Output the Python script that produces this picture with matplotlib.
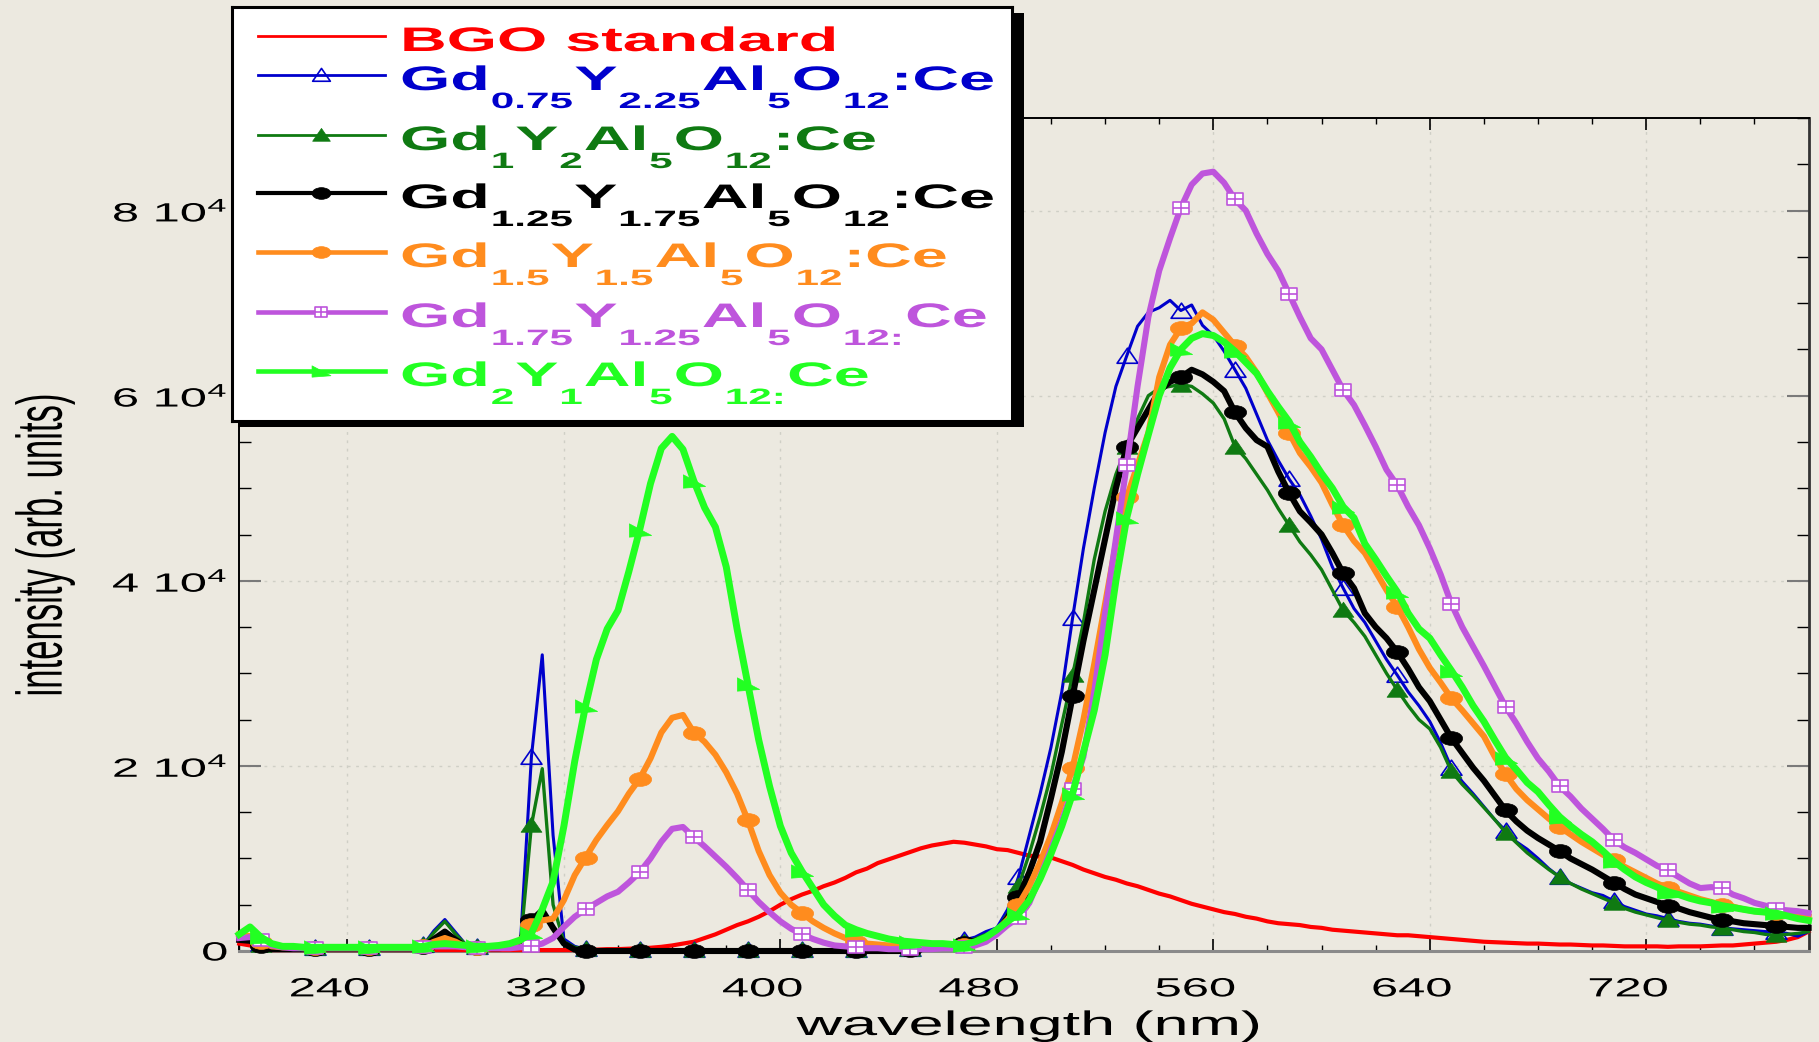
import numpy as np
import matplotlib
matplotlib.use("Agg")
import matplotlib.pyplot as plt
from matplotlib.path import Path
from matplotlib.patches import Rectangle
from matplotlib.patheffects import AbstractPathEffect
from matplotlib.transforms import Affine2D
from matplotlib.ticker import FixedLocator, MultipleLocator

# ---------------- data (intensities in units of 1000) ----------------
wavelength_nm = np.arange(200, 781, 4)

bgo_k = [
    0.8, 0.6, 0.3, 0.1, 0.1, 0.1, 0.1, 0.1, 0.1, 0.1,
    0.1, 0.1, 0.1, 0.1, 0.1, 0.1, 0.1, 0.1, 0.1, 0.1,
    0.1, 0.1, 0.1, 0.1, 0.1, 0.1, 0.1, 0.1, 0.1, 0.1,
    0.1, 0.1, 0.1, 0.15, 0.2, 0.2, 0.25, 0.3, 0.35, 0.45,
    0.6, 0.8, 1.0, 1.4, 1.8, 2.3, 2.8, 3.2, 3.7, 4.3,
    5.0, 5.6, 6.1, 6.5, 7.0, 7.4, 7.9, 8.5, 8.9, 9.5,
    9.9, 10.3, 10.7, 11.1, 11.4, 11.6, 11.8, 11.7, 11.5, 11.3,
    11.0, 10.9, 10.6, 10.3, 10.2, 10.1, 9.7, 9.3, 8.8, 8.4,
    8.0, 7.7, 7.3, 7.0, 6.6, 6.2, 5.9, 5.5, 5.1, 4.8,
    4.5, 4.2, 4.0, 3.7, 3.5, 3.2, 3.0, 2.9, 2.8, 2.6,
    2.5, 2.3, 2.2, 2.1, 2.0, 1.9, 1.8, 1.7, 1.7, 1.6,
    1.5, 1.4, 1.3, 1.2, 1.1, 1.0, 0.95, 0.9, 0.85, 0.8,
    0.8, 0.75, 0.7, 0.7, 0.65, 0.6, 0.6, 0.55, 0.5, 0.5,
    0.5, 0.5, 0.45, 0.5, 0.5, 0.5, 0.55, 0.6, 0.6, 0.7,
    0.8, 0.9, 1.0, 1.2, 1.5, 2.1]

gd075_k = [
    1.8, 1.5, 0.8, 0.4, 0.3, 0.3, 0.3, 0.3, 0.3, 0.3,
    0.3, 0.3, 0.3, 0.3, 0.3, 0.3, 0.3, 0.6, 2.2, 3.4,
    2.0, 0.6, 0.4, 0.4, 0.5, 0.5, 1.2, 21.0, 32.0, 12.5,
    1.3, 0.5, 0.2, 0.1, 0.1, 0.1, 0.1, 0.1, 0.1, 0.1,
    0.1, 0.1, 0.1, 0.1, 0.1, 0.1, 0.1, 0.1, 0.1, 0.1,
    0.1, 0.1, 0.1, 0.1, 0.1, 0.1, 0.1, 0.1, 0.1, 0.1,
    0.1, 0.1, 0.2, 0.3, 0.5, 0.7, 0.9, 1.2, 1.5, 2.1,
    2.5, 4.5, 8.0, 12.5, 17.0, 22.0, 28.0, 36.0, 43.5, 50.0,
    56.0, 61.0, 64.3, 67.5, 69.0, 69.5, 70.3, 69.2, 69.8, 67.6,
    66.5, 64.8, 62.8, 60.8, 58.0, 55.2, 53.0, 51.0, 49.3, 47.0,
    44.5, 41.5, 39.2, 37.0, 35.5, 33.5, 31.5, 29.8, 28.0, 26.5,
    24.8, 22.5, 19.8, 18.3, 17.0, 15.6, 14.2, 13.0, 11.8, 11.0,
    10.0, 8.9, 8.0, 7.3, 6.8, 6.3, 6.0, 5.4, 4.8, 4.4,
    4.0, 3.8, 3.5, 3.2, 3.0, 2.9, 2.7, 2.5, 2.4, 2.3,
    2.2, 2.1, 2.1, 1.9, 1.6, 2.1]

gd1_k = [
    1.5, 1.3, 0.7, 0.4, 0.3, 0.3, 0.3, 0.3, 0.3, 0.3,
    0.3, 0.3, 0.3, 0.3, 0.3, 0.3, 0.3, 0.6, 2.0, 3.2,
    1.8, 0.6, 0.4, 0.4, 0.5, 0.5, 0.9, 13.6, 19.7, 5.0,
    1.0, 0.4, 0.2, 0.1, 0.1, 0.1, 0.1, 0.1, 0.1, 0.1,
    0.1, 0.1, 0.1, 0.1, 0.1, 0.1, 0.1, 0.1, 0.1, 0.1,
    0.1, 0.1, 0.1, 0.1, 0.1, 0.1, 0.1, 0.1, 0.1, 0.1,
    0.1, 0.1, 0.2, 0.3, 0.4, 0.6, 0.8, 1.0, 1.3, 1.8,
    2.2, 4.0, 7.0, 10.5, 14.5, 19.0, 24.5, 29.8, 35.5, 42.3,
    47.5, 51.5, 54.5, 57.5, 60.0, 60.8, 61.0, 61.2, 61.0, 60.2,
    59.2, 57.5, 54.5, 53.2, 51.5, 49.8, 47.8, 46.0, 44.2, 42.8,
    41.2, 39.0, 36.8, 35.5, 34.0, 32.0, 30.0, 28.2, 26.5, 25.0,
    24.0, 22.0, 19.4, 18.0, 16.8, 15.5, 14.2, 12.8, 11.7, 10.6,
    9.7, 8.8, 8.0, 7.3, 6.7, 6.2, 5.7, 5.2, 4.6, 4.2,
    3.9, 3.6, 3.3, 3.1, 2.9, 2.8, 2.6, 2.5, 2.3, 2.1,
    2.0, 1.8, 1.7, 1.8, 1.9, 2.1]

gd125_k = [
    1.2, 1.1, 0.5, 0.2, 0.2, 0.2, 0.2, 0.2, 0.2, 0.2,
    0.2, 0.2, 0.2, 0.2, 0.2, 0.2, 0.2, 0.4, 1.3, 2.1,
    1.2, 0.4, 0.3, 0.3, 0.3, 0.4, 1.2, 3.3, 4.4, 2.5,
    0.8, 0.15, 0.0, 0.0, 0.0, 0.0, 0.0, 0.0, 0.0, 0.0,
    0.0, 0.0, 0.0, 0.0, 0.0, 0.0, 0.0, 0.0, 0.0, 0.0,
    0.0, 0.0, 0.0, 0.0, 0.0, 0.0, 0.0, 0.0, 0.0, 0.0,
    0.0, 0.0, 0.1, 0.2, 0.3, 0.5, 0.7, 0.9, 1.1, 1.4,
    2.0, 3.6, 5.8, 8.5, 11.8, 16.5, 21.5, 27.5, 33.5, 39.0,
    44.5, 50.0, 54.5, 56.5, 58.5, 60.5, 61.5, 62.0, 62.8, 62.3,
    61.5, 60.5, 58.2, 56.5, 55.2, 54.5, 51.8, 49.5, 47.5, 46.3,
    45.0, 43.0, 40.8, 39.2, 36.5, 35.0, 33.8, 32.3, 30.5, 28.5,
    27.0, 25.0, 23.0, 21.4, 19.8, 18.4, 16.8, 15.2, 14.0, 13.0,
    12.2, 11.5, 10.8, 10.0, 9.4, 8.8, 8.1, 7.4, 6.7, 6.1,
    5.7, 5.3, 4.9, 4.6, 4.2, 3.9, 3.6, 3.4, 3.2, 3.0,
    2.9, 2.8, 2.7, 2.6, 2.5, 2.5]

gd15_k = [
    1.8, 1.6, 1.0, 0.5, 0.4, 0.4, 0.3, 0.3, 0.3, 0.3,
    0.3, 0.3, 0.3, 0.3, 0.3, 0.3, 0.3, 0.5, 1.0, 1.4,
    1.0, 0.4, 0.3, 0.3, 0.4, 0.5, 1.2, 2.8, 3.3, 3.5,
    5.5, 8.2, 10.1, 12.0, 13.6, 15.1, 17.0, 18.6, 20.8, 23.6,
    25.2, 25.5, 23.6, 22.6, 21.2, 19.3, 17.0, 14.1, 10.8, 8.2,
    6.3, 5.0, 4.1, 3.2, 2.5, 1.9, 1.4, 1.0, 0.8, 0.7,
    0.6, 0.5, 0.5, 0.4, 0.4, 0.4, 0.5, 0.6, 0.9, 1.3,
    2.2, 3.4, 5.0, 7.0, 9.6, 12.5, 16.0, 19.8, 25.0, 31.0,
    37.5, 44.0, 49.0, 52.5, 56.0, 62.0, 65.5, 67.3, 67.8, 69.0,
    68.2, 66.8, 65.4, 64.2, 62.5, 60.3, 58.2, 56.0, 53.8, 52.3,
    50.6, 48.2, 46.0, 44.3, 43.0, 41.0, 39.0, 37.2, 35.0, 32.6,
    30.6, 29.0, 27.3, 26.0, 24.6, 23.2, 21.0, 19.1, 17.5, 16.3,
    15.3, 14.3, 13.4, 12.6, 11.8, 11.1, 10.4, 9.8, 9.1, 8.5,
    7.9, 7.3, 6.8, 6.4, 6.0, 5.6, 5.3, 5.0, 4.8, 4.5,
    4.3, 4.2, 4.1, 3.9, 3.8, 3.7]

gd175_k = [
    1.4, 1.5, 1.2, 0.6, 0.4, 0.3, 0.3, 0.3, 0.3, 0.3,
    0.3, 0.3, 0.3, 0.3, 0.3, 0.3, 0.3, 0.4, 0.5, 0.5,
    0.5, 0.4, 0.3, 0.3, 0.3, 0.3, 0.4, 0.5, 0.8, 1.4,
    2.6, 3.7, 4.5, 5.2, 5.9, 6.4, 7.4, 8.5, 10.0, 11.8,
    13.2, 13.4, 12.3, 11.3, 10.2, 9.1, 7.9, 6.6, 5.3, 4.2,
    3.2, 2.4, 1.8, 1.3, 0.9, 0.6, 0.5, 0.4, 0.3, 0.3,
    0.2, 0.2, 0.2, 0.2, 0.2, 0.3, 0.3, 0.4, 0.6, 1.0,
    1.8, 2.8, 3.6, 5.2, 8.0, 11.0, 14.0, 17.5, 21.0, 28.0,
    36.5, 44.5, 52.5, 61.0, 68.5, 73.5, 77.0, 80.3, 82.8, 84.0,
    84.2, 83.0, 81.2, 80.0, 77.5, 75.3, 73.5, 71.0, 68.5, 66.2,
    65.0, 62.8, 60.6, 59.0, 56.8, 54.5, 52.0, 50.3, 48.0, 46.0,
    43.5, 40.7, 37.5, 35.0, 32.9, 30.8, 28.6, 26.4, 24.6, 22.6,
    20.8, 19.4, 17.8, 16.7, 15.4, 14.3, 13.2, 12.0, 11.2, 10.6,
    9.9, 9.2, 8.7, 8.0, 7.3, 6.8, 6.9, 6.8, 6.1, 5.7,
    5.2, 4.9, 4.5, 4.4, 4.3, 4.1]

gd2_k = [
    1.8, 2.6, 1.5, 0.8, 0.5, 0.5, 0.4, 0.4, 0.4, 0.4,
    0.4, 0.4, 0.4, 0.4, 0.4, 0.4, 0.4, 0.5, 0.7, 0.8,
    0.7, 0.6, 0.5, 0.5, 0.6, 0.8, 1.2, 1.9, 4.5, 7.5,
    13.5, 20.5, 26.5, 31.5, 34.8, 36.8, 41.0, 45.5, 50.5, 54.3,
    55.6, 54.2, 50.8, 47.9, 45.8, 41.5, 34.8, 28.8, 22.8, 17.8,
    13.5, 10.6, 8.6, 6.8, 5.0, 3.8, 2.8, 2.3, 1.9, 1.6,
    1.3, 1.1, 1.0, 0.9, 0.8, 0.8, 0.7, 0.7, 1.0, 1.5,
    2.3, 3.2, 4.0, 5.5, 7.8, 10.5, 13.5, 17.0, 21.5, 26.0,
    32.0, 40.0, 46.8, 51.5, 55.8, 60.0, 63.0, 65.0, 66.2, 66.7,
    66.5, 65.8, 64.8, 63.6, 62.4, 60.5, 58.8, 57.2, 55.0, 53.4,
    51.6, 50.0, 48.0, 46.8, 44.0, 42.3, 40.5, 38.8, 36.5, 34.8,
    33.8, 32.0, 30.3, 28.5, 26.5, 24.8, 22.8, 20.9, 19.6, 18.2,
    17.2, 15.8, 14.5, 13.5, 12.6, 11.8, 10.8, 9.7, 8.8, 8.0,
    7.4, 6.9, 6.4, 6.1, 5.7, 5.4, 5.2, 4.9, 4.7, 4.5,
    4.3, 4.2, 4.1, 3.8, 3.5, 3.3]

series_values = [bgo_k, gd075_k, gd1_k, gd125_k, gd15_k, gd175_k, gd2_k]

# legend labels: (text, is_subscript)
legend_pieces = [
    [("BGO standard", 0)],
    [("Gd", 0), ("0.75", 1), ("Y", 0), ("2.25", 1), ("Al", 0), ("5", 1), ("O", 0), ("12", 1), (":Ce", 0)],
    [("Gd", 0), ("1", 1), ("Y", 0), ("2", 1), ("Al", 0), ("5", 1), ("O", 0), ("12", 1), (":Ce", 0)],
    [("Gd", 0), ("1.25", 1), ("Y", 0), ("1.75", 1), ("Al", 0), ("5", 1), ("O", 0), ("12", 1), (":Ce", 0)],
    [("Gd", 0), ("1.5", 1), ("Y", 0), ("1.5", 1), ("Al", 0), ("5", 1), ("O", 0), ("12", 1), (":Ce", 0)],
    [("Gd", 0), ("1.75", 1), ("Y", 0), ("1.25", 1), ("Al", 0), ("5", 1), ("O", 0), ("12:", 1), ("Ce", 0)],
    [("Gd", 0), ("2", 1), ("Y", 0), ("1", 1), ("Al", 0), ("5", 1), ("O", 0), ("12:", 1), ("Ce", 0)],
]

x_ticks = [240, 320, 400, 480, 560, 640, 720]
x_tick_labels = ["240", "320", "400", "480", "560", "640", "720"]
y_ticks = [0, 20000, 40000, 60000, 80000]
y_tick_labels = ["0", "2 10$^{4}$", "4 10$^{4}$", "6 10$^{4}$", "8 10$^{4}$"]
x_label = "wavelength (nm)"
y_label = "intensity (arb. units)"

# ---------------- style ----------------
plt.rcParams["font.family"] = ["Liberation Sans", "DejaVu Sans"]
plt.rcParams["mathtext.fontset"] = "custom"
plt.rcParams["mathtext.rm"] = "Liberation Sans"
plt.rcParams["mathtext.it"] = "Liberation Sans:italic"
plt.rcParams["mathtext.bf"] = "Liberation Sans:bold"

SX = 1.85   # horizontal stretch of the original picture
SXL = 1.9   # stretch for the legend text


class Stretch(AbstractPathEffect):
    """Draw text glyphs stretched in their local frame (text stays a Text)."""

    def __init__(self, sx=1.0, sy=1.0, anchor="left", dx=0.0):
        super().__init__()
        self._sx, self._sy, self._anchor, self._dx = sx, sy, anchor, dx

    def draw_path(self, renderer, gc, tpath, affine, rgbFace=None):
        ext = tpath.get_extents()
        if self._anchor == "left":
            cx = 0.0
        elif self._anchor == "right":
            cx = ext.x1
        else:
            cx = 0.5 * (ext.x0 + ext.x1)
        cy = 0.5 * (ext.y0 + ext.y1)
        local = Affine2D().translate(-cx, -cy).scale(self._sx, self._sy).translate(cx, cy)
        new_aff = local + affine + Affine2D().translate(self._dx, 0)
        renderer.draw_path(gc, tpath, new_aff, rgbFace)


M, L, C = Path.MOVETO, Path.LINETO, Path.CLOSEPOLY
ellipse = Path.unit_circle().transformed(Affine2D().scale(1.0, 0.62))
tri_up = Path([(-1, -0.65), (1, -0.65), (0, 0.8), (-1, -0.65)], [M, L, L, C])
sq_cross = Path([(-1, -0.75), (1, -0.75), (1, 0.75), (-1, 0.75), (-1, -0.75),
                 (0, -0.75), (0, 0.75), (-1, 0), (1, 0)],
                [M, L, L, L, C, M, L, M, L])
wedge = Path([(-1, 0.6), (-1, -0.6), (1, -0.45), (-1, 0.6)], [M, L, L, C])

styles = [
    dict(color="#FF0000", lw=3.0, llw=2.0, marker=None),
    dict(color="#0000CC", lw=2.2, llw=2.0, marker=tri_up, ms=15, mfc="none", mec="#0000CC", mew=1.2),
    dict(color="#0F7A12", lw=2.4, llw=2.0, marker=tri_up, ms=15, mfc="#0F7A12", mec="#0F7A12", mew=0.5),
    dict(color="#000000", lw=4.4, llw=3.0, marker=ellipse, ms=16, mfc="#000000", mec="#000000", mew=0.5),
    dict(color="#FF8C1E", lw=4.4, llw=3.3, marker=ellipse, ms=16, mfc="#FF8C1E", mec="#FF8C1E", mew=0.5),
    dict(color="#BE55DC", lw=4.4, llw=3.3, marker=sq_cross, ms=11, mfc="white", mec="#BE55DC", mew=1.2),
    dict(color="#22FF22", lw=5.0, llw=3.3, marker=wedge, ms=16, mfc="#22FF22", mec="#22FF22", mew=0.5),
]

BG = "#ECE9E0"
W, H = 1819, 1042
fig = plt.figure(figsize=(W / 100, H / 100), dpi=100, facecolor=BG)
ax = fig.add_axes([239.2 / W, 1 - 951 / H, (1808.6 - 239.2) / W, (951 - 118) / H], facecolor=BG)

for vals, st in zip(series_values, styles):
    y = np.asarray(vals) * 1000.0
    if st["marker"] is None:
        ax.plot(wavelength_nm, y, color=st["color"], lw=st["lw"], clip_on=False,
                solid_joinstyle="round", zorder=3)
    else:
        ax.plot(wavelength_nm, y, color=st["color"], lw=st["lw"], clip_on=False,
                solid_joinstyle="round", marker=st["marker"], markevery=(2, 5),
                ms=st["ms"], mfc=st["mfc"], mec=st["mec"], mew=st["mew"], zorder=3)

ax.set_xlim(200, 780)
ax.set_ylim(0, 90000)
ax.xaxis.set_major_locator(FixedLocator(x_ticks))
ax.xaxis.set_minor_locator(MultipleLocator(20))
ax.set_xticklabels(x_tick_labels)
ax.yaxis.set_major_locator(FixedLocator(y_ticks))
ax.yaxis.set_minor_locator(MultipleLocator(5000))
ax.set_yticklabels(y_tick_labels)

ax.grid(True, which="major", color="#cfcfc6", linestyle=(0, (2, 4)), linewidth=1.0, zorder=0)
ax.tick_params(axis="x", which="major", direction="in", length=8.5, width=1.2, color="black",
               top=True, bottom=True, labelsize=19, pad=19)
ax.tick_params(axis="x", which="minor", direction="in", length=4.5, width=1.0, color="black",
               top=True, bottom=True)
ax.tick_params(axis="y", which="major", direction="in", length=16, width=1.5, color="#7a7a7a",
               left=True, right=True, labelsize=19, pad=8.5)
ax.tick_params(axis="y", which="minor", direction="in", length=8.5, width=1.0, color="black",
               left=True, right=True)

for sp in ("left", "top"):
    ax.spines[sp].set_linewidth(1.4)
    ax.spines[sp].set_color("black")
ax.spines["right"].set_linewidth(2.0)
ax.spines["right"].set_color("#333333")
ax.spines["bottom"].set_linewidth(2.2)
ax.spines["bottom"].set_color("#8a8a8a")

for t in ax.xaxis.get_major_ticks():
    t.label1.set_path_effects([Stretch(sx=SX, anchor="center", dx=-18)])
for t in ax.yaxis.get_major_ticks():
    t.label1.set_path_effects([Stretch(sx=SX, anchor="right")])

ax.set_xlabel(x_label, fontsize=24.5, va="baseline")
ax.xaxis.set_label_coords(0.503, (951 - 1035) / 833)
ax.xaxis.label.set_path_effects([Stretch(sx=SX, anchor="center")])
ax.set_ylabel(y_label, fontsize=25, va="center")
ax.yaxis.set_label_coords((44.5 - 239.2) / 1569.4, (951 - 545) / 833)
ax.yaxis.label.set_path_effects([Stretch(sy=SX, anchor="center")])

# ---------------- legend box (drawn as a small axes) ----------------
fig.add_artist(Rectangle((238 / W, 1 - 427 / H), 786 / W, 414 / H, transform=fig.transFigure,
                         facecolor="black", edgecolor="none", zorder=4))
lax = fig.add_axes([232 / W, 1 - 421 / H, 780 / W, 414 / H], zorder=5)
lax.set_facecolor("white")
lax.set_xlim(0, 780)
lax.set_ylim(414, 0)
lax.set_xticks([])
lax.set_yticks([])
for sp in lax.spines.values():
    sp.set_linewidth(2.2)
    sp.set_color("black")

row_y = [29, 68, 128, 186, 245, 305, 364]
renderer = fig.canvas.get_renderer()
for i, (pieces, st) in enumerate(zip(legend_pieces, styles)):
    yy = row_y[i]
    if st["marker"] is None:
        lax.plot([26, 153], [yy, yy], color=st["color"], lw=st["llw"])
    else:
        lax.plot([26, 89, 153], [yy, yy, yy], color=st["color"], lw=st["llw"],
                 marker=st["marker"], markevery=[1], ms=st["ms"] * 0.85, mfc=st["mfc"],
                 mec=st["mec"], mew=st["mew"])
    x = 168.0
    base = yy + 15
    for txt, sub in pieces:
        t = lax.text(x, base + (18 if sub else 0), txt, fontsize=16 if sub else 24.5,
                     fontweight="bold", color=st["color"], ha="left", va="baseline")
        t.set_path_effects([Stretch(sx=SXL, anchor="left")])
        w = t.get_window_extent(renderer).width
        x += w * SXL + 1

fig.savefig("out.png", dpi=100, facecolor=BG)
